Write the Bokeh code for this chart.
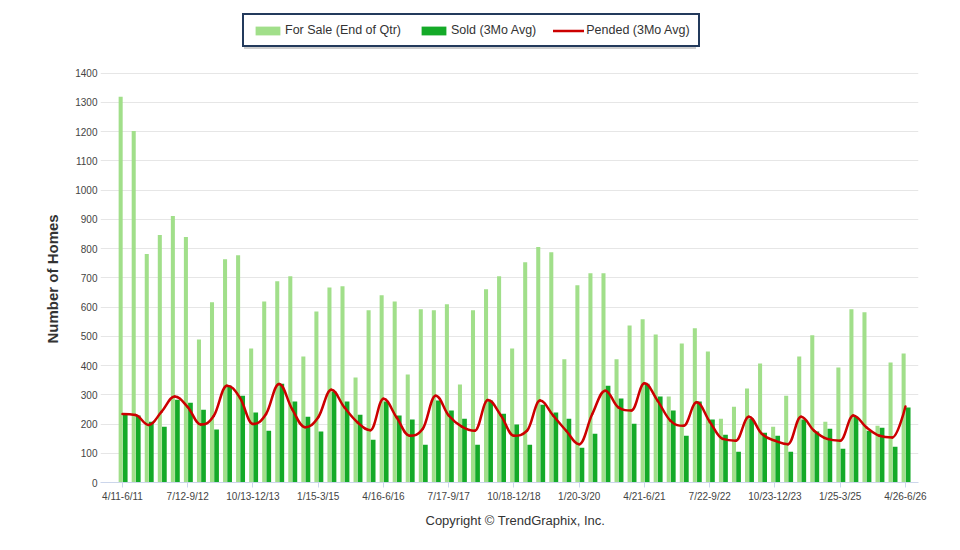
from bokeh.plotting import figure
from bokeh.models import (ColumnDataSource, Range1d, FixedTicker, Legend, LegendItem, Title)
from bokeh.transform import dodge
from bokeh.embed import file_html
from bokeh.resources import INLINE

quarters = [
    "4/11-6/11", "7/11-9/11", "10/11-12/11", "1/12-3/12", "4/12-6/12",
    "7/12-9/12", "10/12-12/12", "1/13-3/13", "4/13-6/13", "7/13-9/13",
    "10/13-12/13", "1/14-3/14", "4/14-6/14", "7/14-9/14", "10/14-12/14",
    "1/15-3/15", "4/15-6/15", "7/15-9/15", "10/15-12/15", "1/16-3/16",
    "4/16-6/16", "7/16-9/16", "10/16-12/16", "1/17-3/17", "4/17-6/17",
    "7/17-9/17", "10/17-12/17", "1/18-3/18", "4/18-6/18", "7/18-9/18",
    "10/18-12/18", "1/19-3/19", "4/19-6/19", "7/19-9/19", "10/19-12/19",
    "1/20-3/20", "4/20-6/20", "7/20-9/20", "10/20-12/20", "1/21-3/21",
    "4/21-6/21", "7/21-9/21", "10/21-12/21", "1/22-3/22", "4/22-6/22",
    "7/22-9/22", "10/22-12/22", "1/23-3/23", "4/23-6/23", "7/23-9/23",
    "10/23-12/23", "1/24-3/24", "4/24-6/24", "7/24-9/24", "10/24-12/24",
    "1/25-3/25", "4/25-6/25", "7/25-9/25", "10/25-12/25", "1/26-3/26",
    "4/26-6/26",
]

for_sale = [
    1319, 1202, 781, 846, 911, 839, 489, 616, 763, 777,
    458, 619, 688, 705, 431, 585, 667, 671, 359, 589,
    640, 619, 369, 592, 589, 609, 335, 589, 661, 705,
    458, 753, 805, 787, 421, 674, 715, 715, 421, 537,
    558, 506, 294, 475, 527, 448, 218, 259, 321, 407,
    191, 297, 431, 503, 208, 393, 592, 582, 194, 410,
    441,
]

sold = [
    234, 229, 208, 191, 283, 273, 249, 181, 331, 297,
    239, 177, 338, 277, 225, 174, 311, 277, 232, 146,
    277, 229, 215, 129, 280, 246, 218, 129, 280, 235,
    198, 129, 266, 239, 218, 119, 167, 331, 287, 201,
    338, 294, 246, 160, 277, 215, 163, 105, 218, 170,
    160, 105, 215, 174, 184, 115, 225, 177, 187, 122,
    256,
]

pended = [
    234, 231, 197, 242, 294, 258, 198, 228, 331, 290,
    200, 234, 337, 251, 189, 223, 317, 257, 206, 179,
    286, 223, 160, 183, 297, 229, 191, 177, 282, 229,
    160, 177, 280, 229, 177, 131, 234, 314, 257, 246,
    339, 280, 211, 194, 274, 208, 149, 143, 225, 166,
    143, 131, 225, 177, 149, 143, 229, 189, 160, 154,
    260,
]

y_ticks = list(range(0, 1401, 100))
label_every = 5

LIGHT = "#A1DF8A"
DARK = "#14AA28"
RED = "#CC0000"
FONT = "Liberation Sans"

idx = list(range(len(quarters)))

# frame spans the full height above the x axis; the area above the 1400 line holds the legend
FRAME_H = 482
Y_TOP = 1400 * FRAME_H / (FRAME_H - 72.5)

p = figure(width=960, height=550, output_backend="svg", toolbar_location=None,
           x_range=Range1d(-1.685, 61.0), y_range=Range1d(0, Y_TOP),
           min_border_left=100, min_border_right=42, min_border_top=0,
           min_border_bottom=550 - FRAME_H, title=None)
p.outline_line_color = None
p.background_fill_color = "white"
p.border_fill_color = "white"

src = ColumnDataSource(dict(x=idx, fs=for_sale, sd=sold, pd=pended))
r_fs = p.vbar(x=dodge("x", -0.14, range=p.x_range), top="fs", width=0.31, bottom=0,
              source=src, fill_color=LIGHT, line_color=None)
r_sd = p.vbar(x=dodge("x", 0.21, range=p.x_range), top="sd", width=0.36, bottom=0,
              source=src, fill_color=DARK, line_color=None)

# Highcharts-style spline through the pended points (rendered as Bezier segments)
def spline_segments(xs, ys, smoothing=1.5):
    n = len(xs)
    denom = smoothing + 1
    lc = [(xs[i], ys[i]) for i in range(n)]
    rc = [(xs[i], ys[i]) for i in range(n)]
    for i in range(1, n - 1):
        px, py = xs[i], ys[i]
        lx, ly = xs[i - 1], ys[i - 1]
        nx, ny = xs[i + 1], ys[i + 1]
        lcx = (smoothing * px + lx) / denom
        lcy = (smoothing * py + ly) / denom
        rcx = (smoothing * px + nx) / denom
        rcy = (smoothing * py + ny) / denom
        if rcx != lcx:
            corr = ((rcy - lcy) * (rcx - px)) / (rcx - lcx) + py - rcy
            lcy += corr
            rcy += corr
            if lcy > ly and lcy > py:
                lcy = max(ly, py); rcy = 2 * py - lcy
            elif lcy < ly and lcy < py:
                lcy = min(ly, py); rcy = 2 * py - lcy
            if rcy > ny and rcy > py:
                rcy = max(ny, py); lcy = 2 * py - rcy
            elif rcy < ny and rcy < py:
                rcy = min(ny, py); lcy = 2 * py - rcy
        lc[i] = (lcx, lcy)
        rc[i] = (rcx, rcy)
    seg = dict(x0=[], y0=[], x1=[], y1=[], cx0=[], cy0=[], cx1=[], cy1=[])
    for i in range(1, n):
        seg["x0"].append(xs[i - 1]); seg["y0"].append(ys[i - 1])
        seg["x1"].append(xs[i]); seg["y1"].append(ys[i])
        seg["cx0"].append(rc[i - 1][0]); seg["cy0"].append(rc[i - 1][1])
        seg["cx1"].append(lc[i][0]); seg["cy1"].append(lc[i][1])
    return seg

bsrc = ColumnDataSource(spline_segments(idx, pended))
r_pd = p.bezier(x0="x0", y0="y0", x1="x1", y1="y1", cx0="cx0", cy0="cy0", cx1="cx1", cy1="cy1",
                source=bsrc, line_color=RED, line_width=2.5, line_cap="round")

# axes
p.xaxis.ticker = FixedTicker(ticks=idx[::label_every])
p.xaxis.major_label_overrides = {i: quarters[i] for i in idx[::label_every]}
p.xaxis.axis_line_color = "#ccd6eb"
p.xaxis.major_tick_line_color = "#ccd6eb"
p.xaxis.major_tick_out = 5
p.xaxis.major_tick_in = 0
p.xaxis.minor_tick_line_color = None
p.xaxis.major_label_standoff = 3
p.xaxis.major_label_text_font = FONT
p.xaxis.major_label_text_font_size = "10px"
p.xaxis.major_label_text_color = "#444444"

p.yaxis.ticker = FixedTicker(ticks=y_ticks)
p.yaxis.axis_line_color = None
p.yaxis.major_tick_line_color = None
p.yaxis.minor_tick_line_color = None
p.yaxis.major_tick_out = 0
p.yaxis.major_tick_in = 0
p.yaxis.major_label_standoff = 3
p.yaxis.major_label_text_font = FONT
p.yaxis.major_label_text_font_size = "10px"
p.yaxis.major_label_text_color = "#444444"

p.xgrid.grid_line_color = None
p.ygrid.grid_line_color = "#E6E6E6"
p.ygrid.grid_line_width = 1

# y-axis title, placed along the 0..1400 part of the axis
ytitle = Title(text="Number of Homes", align="left", offset=139,
               text_font=FONT, text_font_size="15px", text_font_style="bold",
               text_color="#333333", standoff=24)
p.add_layout(ytitle, "left")

LEG_X, LEG_Y = 142, FRAME_H - 16 - 31

# soft drop shadow behind the legend box (single blank item sized like the legend)
shadow = Legend(items=[LegendItem(label=" ", renderers=[r_pd])], orientation="horizontal",
                location=(LEG_X + 2, LEG_Y - 2), glyph_width=410, glyph_height=11,
                label_standoff=2, label_width=20, label_height=12, padding=8, margin=0,
                label_text_font_size="12.5px", label_text_alpha=0)
shadow.border_line_color = "black"
shadow.border_line_alpha = 0.08
shadow.border_line_width = 2
shadow.background_fill_color = "black"
shadow.background_fill_alpha = 0.12
p.add_layout(shadow)

legend = Legend(items=[
    LegendItem(label="For Sale (End of Qtr)", renderers=[r_fs]),
    LegendItem(label="Sold (3Mo Avg)", renderers=[r_sd]),
    LegendItem(label="Pended (3Mo Avg)", renderers=[r_pd]),
], orientation="horizontal", location=(LEG_X, LEG_Y),
    label_text_font=FONT, label_text_font_size="12.5px", label_text_color="#333333",
    glyph_width=31, glyph_height=11, label_standoff=2, label_height=12,
    spacing=17, padding=8, margin=0)
legend.border_line_color = "#233A5C"
legend.border_line_width = 2
legend.border_line_alpha = 1
legend.background_fill_color = "white"
legend.background_fill_alpha = 1
p.add_layout(legend)

copyright = Title(text="Copyright \u00a9 TrendGraphix, Inc.", align="left", offset=325,
                  text_font=FONT, text_font_size="13px", text_font_style="normal",
                  text_color="#333333", standoff=12)
p.add_layout(copyright, "below")

open("out.html", "w").write(file_html(p, INLINE))
